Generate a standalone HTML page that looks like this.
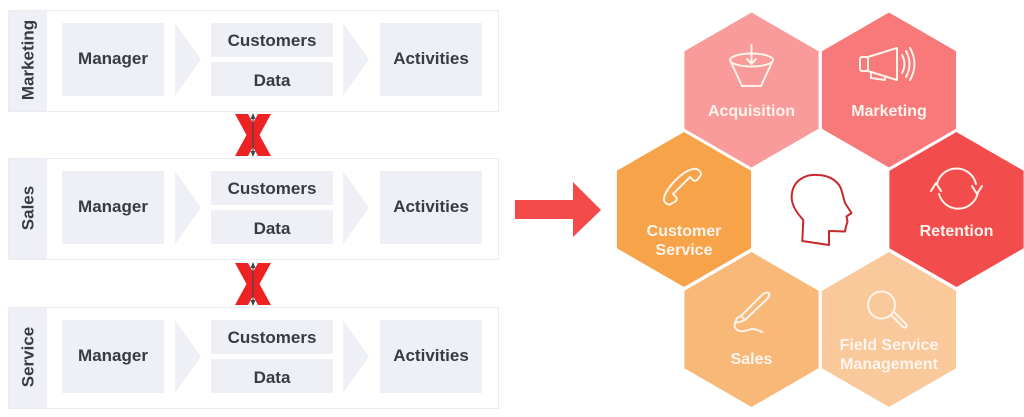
<!DOCTYPE html>
<html><head><meta charset="utf-8"><style>
html,body{margin:0;padding:0;background:#fff;}
svg{display:block;}
.t{font-family:"Liberation Sans",Arial,sans-serif;font-weight:bold;fill:#363b44;font-size:17px;text-anchor:middle;}
.h{font-family:"Liberation Sans",Arial,sans-serif;font-weight:bold;fill:#fff4ee;font-size:16px;text-anchor:middle;}
.ic{fill:none;stroke:#fff3ea;stroke-width:2;stroke-linecap:round;stroke-linejoin:round;}
</style></head><body>
<svg width="1024" height="417" viewBox="0 0 1024 417" xmlns="http://www.w3.org/2000/svg">
<defs>
<g id="row">
  <rect x="8.5" y="0.5" width="490" height="101" fill="#fff" stroke="#e9ebf0" stroke-width="1"/>
  <rect x="9" y="1" width="38" height="100" fill="#eef0f5"/>
  <rect x="62" y="13" width="102" height="73" fill="#eef0f5"/>
  <polygon points="175,13 201,49.5 175,86" fill="#eef0f5"/>
  <rect x="211" y="13" width="122" height="34" fill="#eef0f5"/>
  <rect x="211" y="52" width="122" height="34" fill="#eef0f5"/>
  <polygon points="343,13 369,49.5 343,86" fill="#eef0f5"/>
  <rect x="380" y="13" width="102" height="73" fill="#eef0f5"/>
  <text class="t" x="113" y="54">Manager</text>
  <text class="t" x="272" y="36">Customers</text>
  <text class="t" x="272" y="76">Data</text>
  <text class="t" x="431" y="54">Activities</text>
</g>
<g id="xx">
  <polygon points="235,0 248,0 271,42 258,42" fill="#ee2222"/>
  <polygon points="258,0 271,0 248,42 235,42" fill="#ee2222"/>
  <line x1="253" y1="2" x2="253" y2="40" stroke="#3e4650" stroke-width="1.2"/>
  <polygon points="253,-1 250.5,5 255.5,5" fill="#3e4650"/>
  <polygon points="253,43 250.5,37 255.5,37" fill="#3e4650"/>
</g>
</defs>

<g transform="translate(0,10)"><use href="#row"/><text class="t" transform="translate(33.5,50) rotate(-90)" x="0" y="0">Marketing</text></g>
<g transform="translate(0,158)"><use href="#row"/><text class="t" transform="translate(33.5,50) rotate(-90)" x="0" y="0">Sales</text></g>
<g transform="translate(0,307)"><use href="#row"/><text class="t" transform="translate(33.5,50) rotate(-90)" x="0" y="0">Service</text></g>

<g transform="translate(0,114)"><use href="#xx"/></g>
<g transform="translate(0,263)"><use href="#xx"/></g>

<!-- big arrow -->
<polygon points="515,200 573,200 573,182 601,210 573,237 573,219 515,219" fill="#f44a4a"/>

<!-- hexagons R=77.5, hw=67.1 -->
<polygon points="751.5,12.5 818.6,51.25 818.6,128.75 751.5,167.5 684.4,128.75 684.4,51.25" fill="#f99b9b"/>
<polygon points="889,12.5 956.1,51.25 956.1,128.75 889,167.5 821.9,128.75 821.9,51.25" fill="#f87979"/>
<polygon points="684,132 751.1,170.75 751.1,248.25 684,287 616.9,248.25 616.9,170.75" fill="#f6a34a"/>
<polygon points="956.5,132 1023.6,170.75 1023.6,248.25 956.5,287 889.4,248.25 889.4,170.75" fill="#f34c4c"/>
<polygon points="751.5,252 818.6,290.75 818.6,368.25 751.5,407 684.4,368.25 684.4,290.75" fill="#f7b878"/>
<polygon points="889,252 956.1,290.75 956.1,368.25 889,407 821.9,368.25 821.9,290.75" fill="#f9c99c"/>

<!-- acquisition funnel -->
<g class="ic">
  <ellipse cx="751.5" cy="60" rx="21.5" ry="6.5"/>
  <path d="M730,60 L742,86 L761,86 L773,60"/>
  <path d="M751.5,45 L751.5,64 M747,59 L751.5,64 L756,59"/>
</g>
<!-- megaphone -->
<g class="ic">
  <rect x="860" y="57" width="8" height="14" rx="2"/>
  <path d="M868,57 L897,48 L897,80 L868,71"/>
  <path d="M871,72 L871,78 L885,80 L885,76"/>
  <path d="M902,55 Q907,64 902,73"/>
  <path d="M906,51 Q913,64 906,77"/>
  <path d="M910,48 Q919,64 910,80"/>
</g>
<!-- retention -->
<g class="ic" stroke-width="2.2">
  <path d="M937,184 A20,20 0 0 1 976,184"/>
  <path d="M978,192 A20,20 0 0 1 939,194"/>
  <path d="M931,191 L936,183 L941,191"/>
  <path d="M972,186 L977,194 L982,186"/>
</g>
<!-- phone -->
<g class="ic">
  <path d="M694,169 C697,168 702,172 701,175 L697,180 C696,181 694,181 693,180 L690,177 L673,194 L676,197 C677,198 677,200 676,201 L671,204 C668,206 663,202 664,198 C666,188 683,170 694,169 Z"/>
</g>
<!-- head -->
<path d="M802.3,241 L803.3,220 C796,212 790,203 792,193 C794,180 806,174 817,175 C830,175 840,182 842,192 L845,203 L851.5,213 L846.5,216.5 L847.5,221.5 L846,226.5 L845,231.5 L829,231 L829,245 Z" fill="none" stroke="#c8282c" stroke-width="2" stroke-linejoin="round"/>
<!-- pen -->
<g class="ic">
  <path d="M769,293 C770,295 768,298 766,300 L745,320 L741,316 L762,295 C764,293 767,292 769,293 Z"/>
  <path d="M741,316 L737,318 L735,323 L740,322 L745,320"/>
  <path d="M735,323 C733,330 740,333 748,330 C754,328 758,330 762,332"/>
</g>
<!-- magnifier -->
<g class="ic">
  <circle cx="881.5" cy="305" r="13.5"/>
  <path d="M891,315 L903,327 C905,329 908,326 906,324 L894,312"/>
</g>

<text class="h" x="751.5" y="116">Acquisition</text>
<text class="h" x="889" y="116">Marketing</text>
<text class="h" x="684" y="236">Customer</text>
<text class="h" x="684" y="255">Service</text>
<text class="h" x="956.5" y="236">Retention</text>
<text class="h" x="751.5" y="364">Sales</text>
<text class="h" x="889" y="350">Field Service</text>
<text class="h" x="889" y="369">Management</text>
</svg>
</body></html>
